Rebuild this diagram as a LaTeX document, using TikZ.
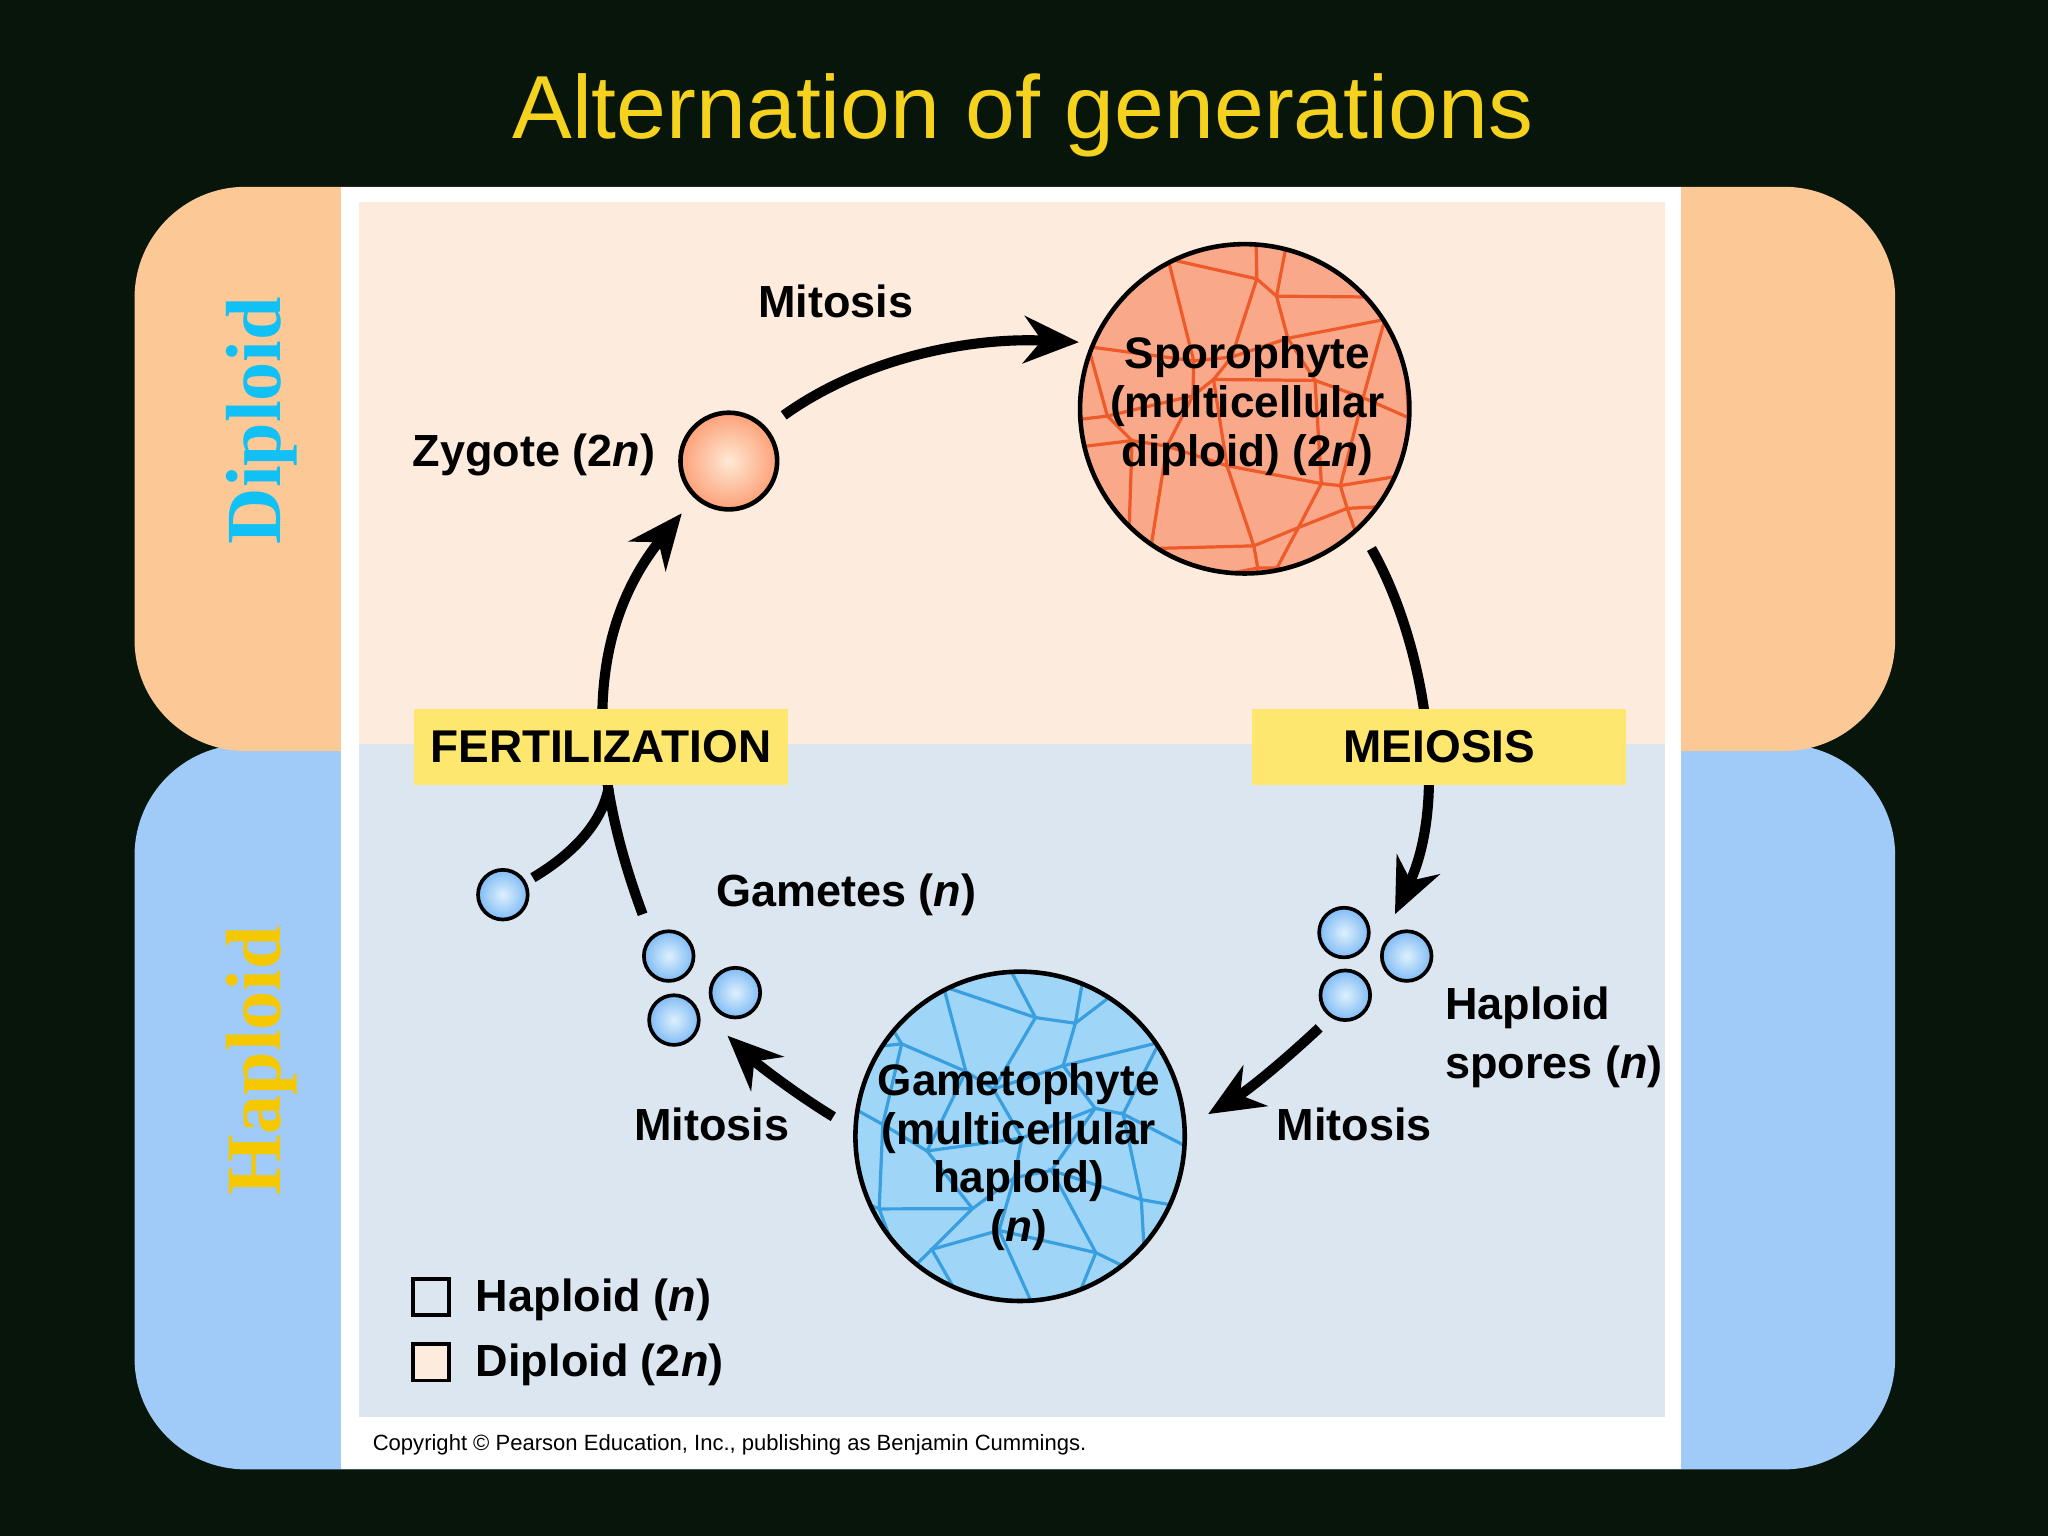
\documentclass[tikz,border=0pt]{standalone}
\usepackage{fontspec}
\setmainfont{Liberation Sans}
\newfontfamily\serifbold{Liberation Serif}
\usetikzlibrary{arrows.meta,shadings}
\definecolor{bgdark}{HTML}{07150A}
\definecolor{titley}{HTML}{F5D21E}
\definecolor{orangeband}{HTML}{FCC996}
\definecolor{blueband}{HTML}{A0CBF8}
\definecolor{dipin}{HTML}{FDEBDD}
\definecolor{hapin}{HTML}{DCE6F0}
\definecolor{labely}{HTML}{FDE76E}
\definecolor{sporo}{HTML}{F9A98A}
\definecolor{sporoline}{HTML}{EE5A2A}
\definecolor{gameto}{HTML}{9FD6F8}
\definecolor{gametoline}{HTML}{3A9FE0}
\definecolor{cyanlbl}{HTML}{11C0F5}
\definecolor{yellowlbl}{HTML}{F5C800}
\definecolor{ballblue}{HTML}{8ED0F4}
\tikzset{
  lbl/.style={font=\bfseries\fontsize{9.8}{11.5}\selectfont, text=black, align=center},
  circlbl/.style={font=\bfseries\fontsize{9.6}{10.6}\selectfont, text=black, align=center},
  cyc/.style={line width=2.2pt, -{Stealth[length=0.42cm,width=0.36cm]}},
  cycnoarrow/.style={line width=2.2pt},
  ybox/.style={fill=labely, minimum width=2.86cm, minimum height=0.58cm, font=\bfseries\fontsize{10}{12}\selectfont, inner sep=0pt},
  ball/.style={circle, draw=black, line width=0.8pt, minimum size=0.38cm, inner sep=0pt, inner color=white!70!ballblue, outer color=ballblue!90!blue},
  legbox/.style={draw=black, line width=0.8pt, minimum size=0.28cm, inner sep=0pt}
}
\begin{document}
\begin{tikzpicture}[x=0.01cm,y=-0.01cm]
\fill[bgdark] (0,0) rectangle (1568,1176);
\useasboundingbox (0,0) rectangle (1568,1176);
\node[text=titley, font=\fontsize{19.5}{22}\selectfont] (title) at (783,88) {Alternation of generations};
% bands
\fill[blueband, rounded corners=0.85cm] (103,570) rectangle (1451,1125);
\fill[orangeband, rounded corners=0.85cm] (103,143) rectangle (1451,575);
\fill[white] (261,143) rectangle (1287,1125);
\fill[dipin] (275,155) rectangle (1275,570);
\fill[hapin] (275,570) rectangle (1275,1085);
\node[rotate=90, text=cyanlbl, font=\serifbold\bfseries\fontsize{17}{20}\selectfont] (dipl) at (200,322) {Diploid};
\node[rotate=90, text=yellowlbl, font=\serifbold\bfseries\fontsize{17}{20}\selectfont] (hapl) at (200,812) {Haploid};
\node[anchor=west, font=\fontsize{4.8}{6}\selectfont] (copy) at (273,1106) {Copyright \textcopyright{} Pearson Education, Inc., publishing as Benjamin Cummings.};
% sporophyte
\fill[sporo] (953,313) circle[radius=1.26cm];
\begin{scope}
\clip (953,313) circle[radius=1.26cm];
\foreach \i in {0,...,6}{
 \foreach \j in {0,...,6}{
  \pgfmathsetmacro\ax{953-150+\i*48+18*sin(\i*137+\j*71)}
  \pgfmathsetmacro\ay{313-150+\j*48+18*cos(\i*53+\j*119)}
  \pgfmathsetmacro\bx{953-150+(\i+1)*48+18*sin((\i+1)*137+\j*71)}
  \pgfmathsetmacro\by{313-150+\j*48+18*cos((\i+1)*53+\j*119)}
  \pgfmathsetmacro\cx{953-150+\i*48+18*sin(\i*137+(\j+1)*71)}
  \pgfmathsetmacro\cy{313-150+(\j+1)*48+18*cos(\i*53+(\j+1)*119)}
  \draw[sporoline, line width=0.7pt] (\bx,\by) -- (\ax,\ay) -- (\cx,\cy);
 }}
\end{scope}
\node[circle, draw=black, line width=1pt, minimum size=2.52cm] (sporo) at (953,313) {};
\node[circlbl] (sporot) at (955,311) {Sporophyte\\(multicellular\\diploid) (2\textit{n})};
% gametophyte
\fill[gameto] (781,870) circle[radius=1.26cm];
\begin{scope}
\clip (781,870) circle[radius=1.26cm];
\foreach \i in {0,...,6}{
 \foreach \j in {0,...,6}{
  \pgfmathsetmacro\ax{781-150+\i*48+18*sin(\i*97+\j*151)}
  \pgfmathsetmacro\ay{870-150+\j*48+18*cos(\i*83+\j*59)}
  \pgfmathsetmacro\bx{781-150+(\i+1)*48+18*sin((\i+1)*97+\j*151)}
  \pgfmathsetmacro\by{870-150+\j*48+18*cos((\i+1)*83+\j*59)}
  \pgfmathsetmacro\cx{781-150+\i*48+18*sin(\i*97+(\j+1)*151)}
  \pgfmathsetmacro\cy{870-150+(\j+1)*48+18*cos(\i*83+(\j+1)*59)}
  \draw[gametoline, line width=0.7pt] (\bx,\by) -- (\ax,\ay) -- (\cx,\cy);
 }}
\end{scope}
\node[circle, draw=black, line width=1pt, minimum size=2.52cm] (gameto) at (781,870) {};
\node[circlbl] (gametot) at (780,886) {Gametophyte\\(multicellular\\haploid)\\(\textit{n})};
% zygote
\node[circle, draw=black, line width=1pt, minimum size=0.74cm, inner color=white!60!orangeband, outer color=orangeband!80!red] (zyg) at (558,353) {};
\node[lbl, anchor=east] (zygt) at (514,348) {Zygote (2\textit{n})};
% small balls
\node[ball] (g0) at (385,685) {};
\node[ball] (g1) at (512,732) {};
\node[ball] (g2) at (563,760) {};
\node[ball] (g3) at (516,781) {};
\node[ball] (s1) at (1029,714) {};
\node[ball] (s2) at (1077,732) {};
\node[ball] (s3) at (1030,762) {};
% labels
\node[lbl] (mit1) at (640,231) {Mitosis};
\node[lbl] (mit2) at (1037,861) {Mitosis};
\node[lbl] (mit3) at (545,861) {Mitosis};
\node[lbl] (gam) at (648,685) {Gametes (\textit{n})};
\node[lbl, anchor=west, align=left, font=\bfseries\fontsize{9.8}{12.8}\selectfont] (spt) at (1094,794) {Haploid\\spores (\textit{n})};
% arrows
\coordinate (a1) at (600,318);
\coordinate (a2) at (826,262);
\draw[cyc] (a1) .. controls (660,275) and (740,258) .. (a2);
\coordinate (m1) at (1050,420);
\coordinate (m2) at (1068,700);
\draw[cyc] (m1) .. controls (1090,490) and (1110,610) .. (m2);
\coordinate (r1) at (1010,787);
\coordinate (r2) at (925,853);
\draw[cyc] (r1) .. controls (980,815) and (955,835) .. (r2);
\coordinate (l1) at (638,855);
\coordinate (l2) at (557,793);
\draw[cyc] (l1) .. controls (610,838) and (580,815) .. (l2);
\coordinate (f1) at (492,700);
\coordinate (f2) at (522,393);
\draw[cyc] (f1) .. controls (440,560) and (460,470) .. (f2);
\coordinate (f3) at (408,672);
\coordinate (f4) at (466,603);
\draw[cycnoarrow] (f3) .. controls (445,650) and (462,625) .. (f4);
% yellow boxes
\node[ybox] (fert) at (460,572) {FERTILIZATION};
\node[ybox] (meio) at (1102,572) {MEIOSIS};
% legend
\node[legbox, fill=hapin] (lg1) at (330,993) {};
\node[lbl, anchor=west] (lg1t) at (352,995) {Haploid (\textit{n})};
\node[legbox, fill=dipin] (lg2) at (330,1043) {};
\node[lbl, anchor=west] (lg2t) at (352,1045) {Diploid (2\textit{n})};
\end{tikzpicture}
\end{document}
